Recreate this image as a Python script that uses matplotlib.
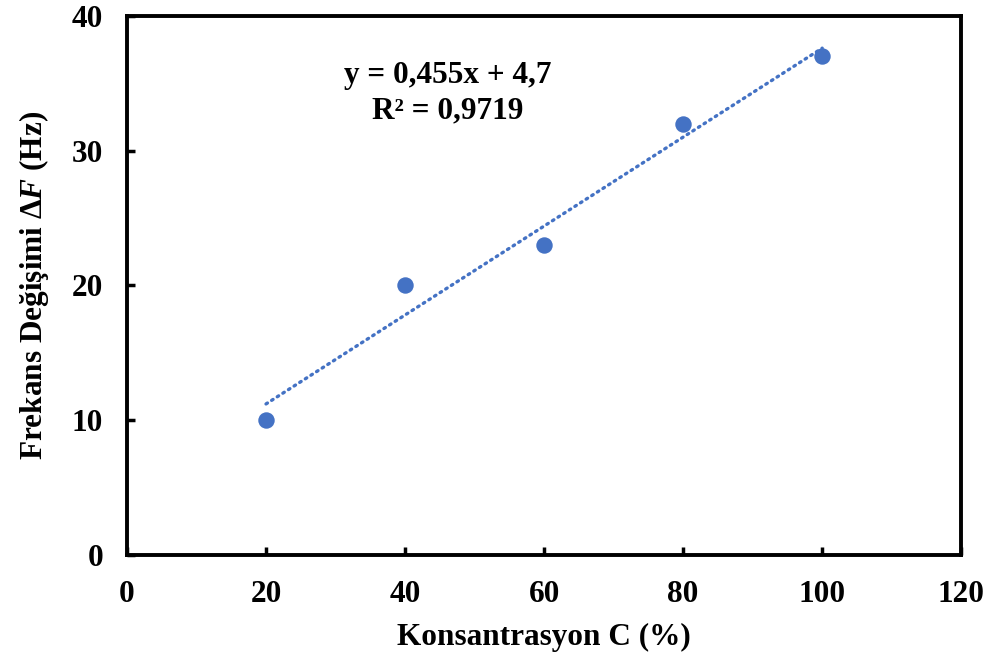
import matplotlib
matplotlib.use("Agg")
import matplotlib.pyplot as plt
import numpy as np

# data
konsantrasyon = [20, 40, 60, 80, 100]
frekans = [10, 20, 23, 32, 37]
xticks = [0, 20, 40, 60, 80, 100, 120]
yticks = [0, 10, 20, 30, 40]
denklem = 'y = 0,455x + 4,7\nR² = 0,9719'

plt.rcParams['font.family'] = 'Liberation Serif'
plt.rcParams['font.weight'] = 'bold'
plt.rcParams['mathtext.fontset'] = 'custom'
plt.rcParams['mathtext.rm'] = 'Liberation Serif:bold'
plt.rcParams['mathtext.it'] = 'Liberation Serif:italic:bold'

fig = plt.figure(figsize=(9.92, 6.59), dpi=100)
ax = fig.add_axes([0.128, 0.158, 0.841, 0.818])

blue = '#4472C4'
# linear trendline (least squares on the points)
m, b = np.polyfit(konsantrasyon, frekans, 1)
xt = np.array([konsantrasyon[0], konsantrasyon[-1]])
ax.plot(xt, m*xt + b, color=blue, lw=2.4, linestyle=(0, (0.5, 1.5)),
        dash_capstyle='round', zorder=2)
ax.scatter(konsantrasyon, frekans, s=140, color=blue, zorder=3, linewidths=0)

ax.text(0.385, 0.857, denklem, transform=ax.transAxes,
        ha='center', va='center', fontsize=22.5, fontweight='bold', linespacing=1.3)

ax.set_xlim(0, 120)
ax.set_ylim(0, 40)
ax.set_xticks(xticks)
ax.set_yticks(yticks)
ax.tick_params(direction='in', length=6, width=2.5, labelsize=22.5)
ax.tick_params(axis='x', pad=18)
ax.tick_params(axis='y', pad=17)
for lab in ax.get_xticklabels() + ax.get_yticklabels():
    lab.set_fontweight('bold')
for sp in ax.spines.values():
    sp.set_linewidth(2.8)

ax.set_xlabel('Konsantrasyon C (%)', fontsize=22.5, fontweight='bold', labelpad=10)
ax.set_ylabel('Frekans Değişimi Δ$\\mathit{F}$ (Hz)', fontsize=22.5, fontweight='bold', labelpad=15)

fig.savefig('out.png', dpi=100)
